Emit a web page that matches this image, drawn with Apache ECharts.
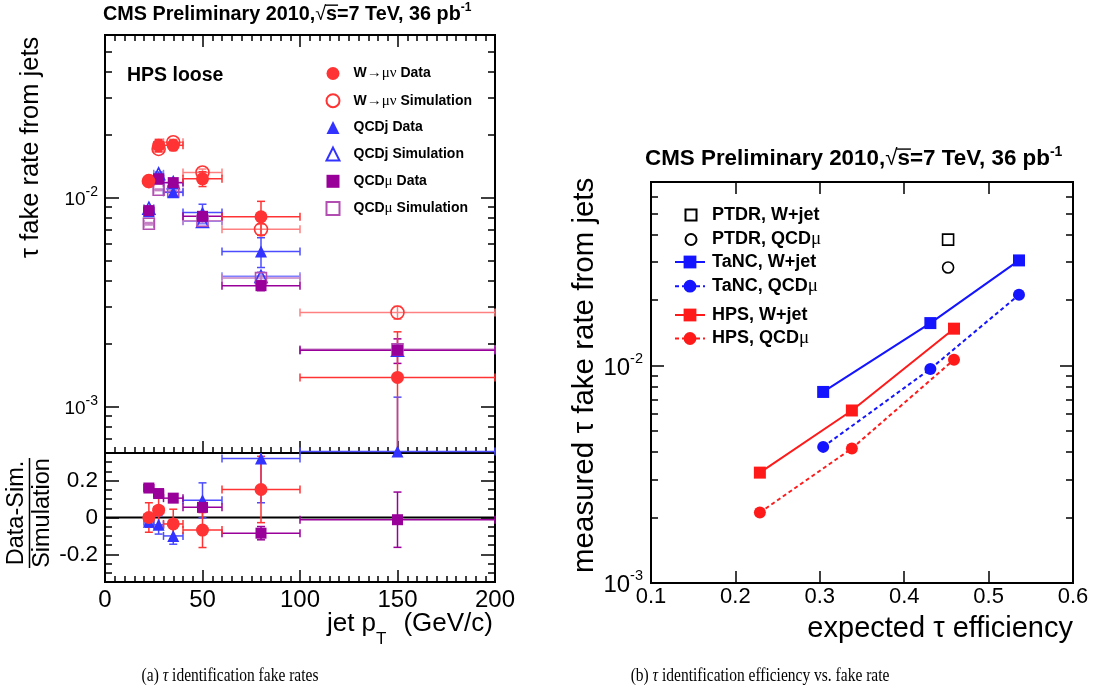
<!DOCTYPE html>
<html>
<head>
<meta charset="utf-8">
<title>Tau fake rates</title>
<script src="https://cdn.jsdelivr.net/npm/echarts@6.0.0/dist/echarts.min.js"></script>
<style>
  html, body { margin: 0; padding: 0; background: #fff; }
  #chart { width: 1097px; height: 692px; }
</style>
</head>
<body>
<div id="chart"></div>
<script>
// ---------- jet pT binning (GeV/c) ----------
const ptCenter = [22.5, 27.5, 35, 50, 80, 150];
const ptLow    = [20, 25, 30, 40, 60, 100];
const ptHigh   = [25, 30, 40, 60, 100, 200];

// ---------- tau fake rate from jets vs jet pT (HPS loose) ----------
const wData        = [0.0120, 0.0178, 0.0178, 0.0123, 0.0081, 0.00138];
const wDataErr     = [0.0007, 0.0012, 0.0010, 0.0010, 0.0015, 0.0009];
const wSim         = [0.0120, 0.0171, 0.0184, 0.0132, 0.00705, 0.00282];
const wSimErr      = [0.0004, 0.0006, 0.0006, 0.0005, 0.0004, 0.0002];
const qcdjData     = [0.0086, 0.0125, 0.0106, 0.0085, 0.00553, 0.00061];
const qcdjDataErr  = [0.0004, 0.0006, 0.0005, 0.0008, 0.0009, 0.0005];
const qcdjSim      = [0.0089, 0.0130, 0.0118, 0.0077, 0.0042, 0.00186];
const qcdjSimErr   = [0.0002, 0.0003, 0.0003, 0.0002, 0.0002, 0.0001];
const qcdmuData    = [0.00867, 0.0123, 0.0118, 0.00814, 0.00379, 0.00186];
const qcdmuDataErr = [0.0002, 0.0003, 0.0003, 0.0002, 0.0002, 0.00025];
const qcdmuSim     = [0.0075, 0.0109, 0.0107, 0.00775, 0.00412, 0.00188];
const qcdmuSimErr  = [0.0001, 0.0001, 0.0001, 0.0001, 0.0001, 0.0001];

// ---------- (Data - Sim.) / Simulation ----------
const wRatio        = [0.0, 0.04, -0.035, -0.068, 0.152, -0.51];
const wRatioErr     = [0.08, 0.09, 0.08, 0.095, 0.18, 0.10];
const qcdjRatio     = [-0.023, -0.04, -0.10, 0.093, 0.32, null];
const qcdjRatioErr  = [0.03, 0.05, 0.045, 0.095, 0.24, null];
const qcdmuRatio    = [0.16, 0.13, 0.105, 0.055, -0.085, -0.012];
const qcdmuRatioErr = [0.02, 0.02, 0.02, 0.025, 0.036, 0.15];

// ---------- efficiency vs fake rate ----------
const effTaNC   = [0.304, 0.431, 0.536];
const tancWjet  = [0.00757, 0.0157, 0.0305];
const tancQcdmu = [0.00423, 0.00966, 0.0212];
const effHPS    = [0.229, 0.338, 0.459];
const hpsWjet   = [0.00322, 0.00622, 0.0148];
const hpsQcdmu  = [0.00211, 0.00416, 0.01066];
const effPTDR   = [0.452];
const ptdrWjet  = [0.038];
const ptdrQcdmu = [0.0283];

// ---------- tick positions ----------
const logMajorTicks  = [0.001, 0.01];
const logMinorLeft   = [0.0006, 0.0007, 0.0008, 0.0009, 0.002, 0.003, 0.004, 0.005, 0.006, 0.007, 0.008, 0.009, 0.02, 0.03, 0.04, 0.05, 0.06];
const logMinorRight  = [0.002, 0.003, 0.004, 0.005, 0.006, 0.007, 0.008, 0.009, 0.02, 0.03, 0.04, 0.05, 0.06, 0.07];
const ratioMajorTicks = [-0.2, 0, 0.2];
const ratioMinorTicks = [-0.3, -0.25, -0.15, -0.1, -0.05, 0.05, 0.1, 0.15, 0.25, 0.3];

const FONT = "'Liberation Sans', Arial, Helvetica, sans-serif";
const SERIF = "'Liberation Serif', 'Times New Roman', serif";
const BLACK = '#000';

const RED = '#ff3333', RED_SIM_LINE = '#ff8080';
const BLUE = '#3333ff', BLUE_SIM_LINE = '#8080ff';
const PURPLE = '#990099', PURPLE_SIM = '#b24db2', PURPLE_SIM_LINE = '#c580c5';
const R_BLUE = '#1414ff', R_RED = '#ff1a1a';

// ---------- axis helpers ----------
function tickStyle(len) {
  return { show: true, inside: true, length: len, lineStyle: { color: BLACK, width: 1.5 } };
}
function baseAxis(extra) {
  return Object.assign({
    axisLine: { show: false, onZero: false },
    splitLine: { show: false },
    axisLabel: { show: false },
    silent: true
  }, extra);
}
function ptAxis(grid, position, labels) {
  return baseAxis({
    type: 'value', gridIndex: grid, position, min: 0, max: 200, interval: 50,
    axisTick: tickStyle(12),
    minorTick: { show: true, splitNumber: 10, length: 6, lineStyle: { color: BLACK, width: 1.5 } },
    axisLabel: labels ? { show: true, fontFamily: FONT, fontSize: 24, color: BLACK, margin: 6 } : { show: false }
  });
}
function effAxis(position, labels) {
  return baseAxis({
    type: 'value', gridIndex: 2, position, min: 0.1, max: 0.6, interval: 0.1,
    axisTick: tickStyle(12),
    axisLabel: labels ? {
      show: true, fontFamily: FONT, fontSize: 22, color: BLACK, margin: 3,
      formatter: v => v.toFixed(1)
    } : { show: false }
  });
}
function powLabel(base, sup, margin) {
  return {
    show: true, customValues: logMajorTicks, margin,
    formatter: v => '{b|10}{s|' + Math.round(Math.log10(v)) + '}',
    rich: {
      b: { fontFamily: FONT, fontSize: base, color: BLACK, lineHeight: base + 5, verticalAlign: 'bottom' },
      s: { fontFamily: FONT, fontSize: sup, color: BLACK, lineHeight: sup + 1, verticalAlign: 'top' }
    }
  };
}
function logAxis(grid, position, min, max, ticks, len, label) {
  const t = tickStyle(len);
  t.customValues = ticks;
  return baseAxis({
    type: 'log', logBase: 10, gridIndex: grid, position, min, max,
    axisTick: t,
    axisLabel: label || { show: false }
  });
}
function ratioAxis(position, ticks, len, labels) {
  const t = tickStyle(len);
  t.customValues = ticks;
  return baseAxis({
    type: 'value', gridIndex: 1, position, min: -0.35, max: 0.35,
    axisTick: t,
    axisLabel: labels ? {
      show: true, customValues: ratioMajorTicks, fontFamily: FONT, fontSize: 22.5, color: BLACK, margin: 7,
      formatter: v => (Math.abs(v) < 1e-9 ? '0' : v.toFixed(1))
    } : { show: false }
  });
}

// ---------- series helpers ----------
function pairs(xs, ys) {
  const out = [];
  xs.forEach((x, i) => { if (ys[i] != null) out.push([x, ys[i]]); });
  return out;
}
function errRows(ys, errs) {
  const out = [];
  ptCenter.forEach((x, i) => {
    if (ys[i] == null) return;
    out.push([x, ys[i], ptLow[i], ptHigh[i], ys[i] - errs[i], ys[i] + errs[i]]);
  });
  return out;
}
function errorBarRenderer(color, width) {
  return function (params, api) {
    const cs = params.coordSys;
    const x0 = cs.x, x1 = cs.x + cs.width, y0 = cs.y, y1 = cs.y + cs.height;
    const cx = v => Math.min(Math.max(v, x0), x1);
    const cy = v => Math.min(Math.max(v, y0), y1);
    const c = api.coord([api.value(0), api.value(1)]);
    const l = api.coord([api.value(2), api.value(1)])[0];
    const r = api.coord([api.value(3), api.value(1)])[0];
    const b = api.coord([api.value(0), api.value(4)])[1];
    const t = api.coord([api.value(0), api.value(5)])[1];
    const cap = 4;
    const style = { stroke: color, lineWidth: width };
    const seg = (ax, ay, bx, by) => ({ type: 'line', shape: { x1: ax, y1: ay, x2: bx, y2: by }, style });
    const kids = [];
    if (c[1] >= y0 - 0.5 && c[1] <= y1 + 0.5) {
      kids.push(seg(cx(l), c[1], cx(r), c[1]));
      if (l >= x0 - 0.5) kids.push(seg(l, c[1] - cap, l, c[1] + cap));
      if (r <= x1 + 0.5) kids.push(seg(r, c[1] - cap, r, c[1] + cap));
    }
    if (c[0] >= x0 && c[0] <= x1) {
      const yb = cy(b), yt = cy(t);
      if (yb > yt) kids.push(seg(c[0], yb, c[0], yt));
      if (b >= y0 && b <= y1) kids.push(seg(c[0] - cap, b, c[0] + cap, b));
      if (t >= y0 && t <= y1) kids.push(seg(c[0] - cap, t, c[0] + cap, t));
    }
    return { type: 'group', children: kids };
  };
}
function errorSeries(rows, color, width, xi, yi) {
  return {
    type: 'custom', xAxisIndex: xi, yAxisIndex: yi, silent: true, z: 2,
    renderItem: errorBarRenderer(color, width),
    encode: { x: 0, y: 1 },
    data: rows
  };
}
function markerSeries(name, data, symbol, size, fill, stroke, xi, yi, z) {
  return {
    name, type: 'scatter', xAxisIndex: xi, yAxisIndex: yi, silent: true, z: z || 3,
    symbol, symbolSize: size,
    itemStyle: { color: fill, borderColor: stroke, borderWidth: fill === 'transparent' ? 1.6 : 0, opacity: 1 },
    data
  };
}

// ---------- inline text with sub/superscripts ----------
const measureCtx = document.createElement('canvas').getContext('2d');
function runFont(r) {
  return (r.italic ? 'italic ' : '') + (r.bold ? 'bold ' : '') + r.size + 'px ' + (r.family || FONT);
}
function inlineText(runs, opt) {
  let w = 0;
  const placed = runs.map(r => {
    const font = runFont(r);
    measureCtx.font = font;
    const start = w + (r.dx || 0);
    const width = measureCtx.measureText(r.t).width;
    w = start + width;
    return { r, font, start, width };
  });
  const off = opt.align === 'right' ? -w : opt.align === 'center' ? -w / 2 : 0;
  const children = [];
  placed.forEach(p => {
    children.push({
      type: 'text', x: p.start + off, y: (p.r.dy || 0) - 0.3465 * p.r.size,
      style: { text: p.r.t, font: p.font, fill: BLACK, align: 'left', verticalAlign: 'middle' }
    });
    if (p.r.over) {
      const yy = (p.r.dy || 0) - 0.80 * p.r.size;
      children.push({
        type: 'line', shape: { x1: p.start + off - 1, y1: yy, x2: p.start + off + p.width + 1, y2: yy },
        style: { stroke: BLACK, lineWidth: 1.4 }
      });
    }
  });
  return {
    type: 'group', x: opt.x, y: opt.y, rotation: opt.rotation || 0,
    scaleY: opt.scaleY || 1, silent: true, children
  };
}
function cmsTitle(x, y, size) {
  const sup = Math.round(size * 0.62);
  return inlineText([
    { t: 'CMS Preliminary 2010,', bold: true, size },
    { t: '\u221A', size },
    { t: 's', bold: true, size, over: true },
    { t: '=7 TeV, 36 pb', bold: true, size },
    { t: '-1', bold: true, size: sup, dy: -size * 0.45 }
  ], { x, y });
}

// ---------- chart ----------
const chart = echarts.init(document.getElementById('chart'), null, { renderer: 'canvas' });

const gridBase = { show: true, borderColor: BLACK, borderWidth: 2, backgroundColor: 'transparent', containLabel: false, outerBoundsMode: 'none' };

function legendText(size, gap) {
  return {
    fontFamily: FONT, fontWeight: 'bold', fontSize: size, color: BLACK, lineHeight: size,
    rich: {
      sp: { width: gap, lineHeight: size },
      g: { fontFamily: SERIF, fontWeight: 'normal', fontSize: size + 1, color: BLACK, lineHeight: size }
    }
  };
}
// legend labels: a small lead-in gap, Greek letters in a serif face
const legendLabel = name => '{sp| }' + name.replace(/[\u2192\u03BC\u03BD]+/g, m => '{g|' + m + '}');

const option = {
  animation: false,
  backgroundColor: '#fff',
  grid: [
    Object.assign({ left: 105, top: 35, width: 390, height: 418 }, gridBase),
    Object.assign({ left: 105, top: 453, width: 390, height: 129 }, gridBase),
    Object.assign({ left: 651, top: 182, width: 422, height: 401 }, gridBase)
  ],
  xAxis: [
    ptAxis(0, 'bottom', false),   // 0
    ptAxis(0, 'top', false),      // 1
    ptAxis(1, 'bottom', true),    // 2
    effAxis('bottom', true),      // 3
    effAxis('top', false)         // 4
  ],
  yAxis: [
    logAxis(0, 'left', 0.0006, 0.06, logMajorTicks, 14, powLabel(19, 14, 7)),   // 0
    logAxis(0, 'left', 0.0006, 0.06, logMinorLeft, 7),                          // 1
    logAxis(0, 'right', 0.0006, 0.06, logMajorTicks, 14),                       // 2
    logAxis(0, 'right', 0.0006, 0.06, logMinorLeft, 7),                         // 3
    ratioAxis('left', ratioMajorTicks, 14, true),                               // 4
    ratioAxis('left', ratioMinorTicks, 7, false),                               // 5
    ratioAxis('right', ratioMajorTicks, 14, false),                             // 6
    ratioAxis('right', ratioMinorTicks, 7, false),                              // 7
    logAxis(2, 'left', 0.001, 0.07, logMajorTicks, 13, powLabel(24, 14.5, 8)),   // 8
    logAxis(2, 'left', 0.001, 0.07, logMinorRight, 7),                          // 9
    logAxis(2, 'right', 0.001, 0.07, logMajorTicks, 13),                        // 10
    logAxis(2, 'right', 0.001, 0.07, logMinorRight, 7)                          // 11
  ],
  legend: [
    {
      orient: 'vertical', left: 325.5, top: 66, padding: 0, itemWidth: 13, itemHeight: 13, itemGap: 12.2,
      selectedMode: false, textStyle: legendText(14, 9), formatter: legendLabel,
      data: ['W\u2192\u03BC\u03BD Data', 'W\u2192\u03BC\u03BD Simulation', 'QCDj Data', 'QCDj Simulation', 'QCD\u03BC Data', 'QCD\u03BC Simulation']
    },
    {
      orient: 'vertical', left: 684.5, top: 206, padding: 0, itemWidth: 11, itemHeight: 11, itemGap: 6,
      selectedMode: false, textStyle: legendText(18, 10.5), formatter: legendLabel,
      data: ['PTDR, W+jet', 'PTDR, QCD\u03BC']
    },
    {
      orient: 'vertical', left: 674, top: 253, padding: 0, itemWidth: 30, itemHeight: 16, itemGap: 5.7,
      selectedMode: false, textStyle: legendText(18, 2), formatter: legendLabel,
      data: ['TaNC, W+jet', 'TaNC, QCD\u03BC']
    },
    {
      orient: 'vertical', left: 674, top: 306, padding: 0, itemWidth: 30, itemHeight: 16, itemGap: 5,
      selectedMode: false, textStyle: legendText(18, 2), formatter: legendLabel,
      data: ['HPS, W+jet', 'HPS, QCD\u03BC']
    }
  ],
  series: [
    // fake-rate error bars
    errorSeries(errRows(wSim, wSimErr), RED_SIM_LINE, 1.5, 0, 0),
    errorSeries(errRows(qcdjSim, qcdjSimErr), BLUE_SIM_LINE, 1.5, 0, 0),
    errorSeries(errRows(qcdmuSim, qcdmuSimErr), PURPLE_SIM_LINE, 1.5, 0, 0),
    errorSeries(errRows(qcdjData, qcdjDataErr), '#4d4dff', 1.5, 0, 0),
    errorSeries(errRows(qcdmuData, qcdmuDataErr), PURPLE, 1.5, 0, 0),
    errorSeries(errRows(wData, wDataErr), RED, 1.5, 0, 0),
    // fake-rate markers
    markerSeries('W\u2192\u03BC\u03BD Simulation', pairs(ptCenter, wSim), 'circle', 13, 'transparent', RED, 0, 0, 3),
    markerSeries('QCDj Simulation', pairs(ptCenter, qcdjSim), 'triangle', 12, 'transparent', BLUE, 0, 0, 3),
    markerSeries('QCD\u03BC Simulation', pairs(ptCenter, qcdmuSim), 'rect', 11, 'transparent', PURPLE_SIM, 0, 0, 3),
    markerSeries('QCDj Data', pairs(ptCenter, qcdjData), 'triangle', 12, BLUE, BLUE, 0, 0, 4),
    markerSeries('QCD\u03BC Data', pairs(ptCenter, qcdmuData), 'rect', 11, PURPLE, PURPLE, 0, 0, 4),
    markerSeries('W\u2192\u03BC\u03BD Data', pairs(ptCenter, wData), 'circle', 13, RED, RED, 0, 0, 4),

    // ratio panel: zero line, error bars, markers
    {
      type: 'line', xAxisIndex: 2, yAxisIndex: 4, silent: true, z: 1, symbol: 'none',
      lineStyle: { color: BLACK, width: 2 }, data: [[0, 0], [200, 0]]
    },
    errorSeries(errRows(qcdjRatio, qcdjRatioErr), '#4d4dff', 1.5, 2, 4),
    errorSeries(errRows(qcdmuRatio, qcdmuRatioErr), PURPLE, 1.5, 2, 4),
    errorSeries(errRows(wRatio, wRatioErr), RED, 1.5, 2, 4),
    markerSeries('ratio QCDj', pairs(ptCenter, qcdjRatio), 'triangle', 12, BLUE, BLUE, 2, 4, 4),
    markerSeries('ratio QCDmu', pairs(ptCenter, qcdmuRatio), 'rect', 11, PURPLE, PURPLE, 2, 4, 4),
    markerSeries('ratio W', pairs(ptCenter, wRatio), 'circle', 13, RED, RED, 2, 4, 4),

    // efficiency vs fake rate
    markerSeries('PTDR, W+jet', pairs(effPTDR, ptdrWjet), 'rect', 11, 'transparent', BLACK, 3, 8, 4),
    markerSeries('PTDR, QCD\u03BC', pairs(effPTDR, ptdrQcdmu), 'circle', 11, 'transparent', BLACK, 3, 8, 4),
    {
      name: 'TaNC, W+jet', type: 'line', xAxisIndex: 3, yAxisIndex: 8, silent: true, z: 4,
      symbol: 'rect', symbolSize: 12, itemStyle: { color: R_BLUE },
      lineStyle: { color: R_BLUE, width: 2, type: 'solid' }, data: pairs(effTaNC, tancWjet)
    },
    {
      name: 'TaNC, QCD\u03BC', type: 'line', xAxisIndex: 3, yAxisIndex: 8, silent: true, z: 4,
      symbol: 'circle', symbolSize: 12, itemStyle: { color: R_BLUE },
      lineStyle: { color: R_BLUE, width: 2, type: [4, 3] }, data: pairs(effTaNC, tancQcdmu)
    },
    {
      name: 'HPS, W+jet', type: 'line', xAxisIndex: 3, yAxisIndex: 8, silent: true, z: 4,
      symbol: 'rect', symbolSize: 12, itemStyle: { color: R_RED },
      lineStyle: { color: R_RED, width: 2, type: 'solid' }, data: pairs(effHPS, hpsWjet)
    },
    {
      name: 'HPS, QCD\u03BC', type: 'line', xAxisIndex: 3, yAxisIndex: 8, silent: true, z: 4,
      symbol: 'circle', symbolSize: 12, itemStyle: { color: R_RED },
      lineStyle: { color: R_RED, width: 2, type: [4, 3] }, data: pairs(effHPS, hpsQcdmu)
    }
  ],
  graphic: [
    cmsTitle(103, 21, 19.8),
    cmsTitle(645, 167, 22.4),
    inlineText([{ t: 'HPS loose', bold: true, size: 19.5 }], { x: 127, y: 82 }),
    // y title, fake rate panel
    inlineText([{ t: '\u03C4 fake rate from jets', size: 25.5 }], { x: 40, y: 258, rotation: Math.PI / 2 }),
    // ratio y title as a fraction
    inlineText([{ t: 'Data-Sim.', size: 23.5 }], { x: 24.8, y: 513, rotation: Math.PI / 2, align: 'center' }),
    inlineText([{ t: 'Simulation', size: 23.5 }], { x: 50.5, y: 513, rotation: Math.PI / 2, align: 'center' }),
    { type: 'line', silent: true, shape: { x1: 29.5, y1: 458, x2: 29.5, y2: 568 }, style: { stroke: BLACK, lineWidth: 1.5 } },
    // x title, fake rate panel
    inlineText([
      { t: 'jet p', size: 26 },
      { t: 'T', size: 17, dy: 12 },
      { t: '(GeV/c)', size: 26, dx: 17 }
    ], { x: 493, y: 633, align: 'right' }),
    // titles, efficiency panel
    inlineText([{ t: 'expected \u03C4 efficiency', size: 29 }], { x: 1073, y: 639, align: 'right' }),
    inlineText([{ t: 'measured \u03C4 fake rate from jets', size: 29.5 }], { x: 595, y: 573, rotation: Math.PI / 2 }),
    // sub-figure captions
    inlineText([
      { t: '(a) ', size: 15.5, family: SERIF },
      { t: '\u03C4', size: 15.5, family: SERIF, italic: true },
      { t: ' identification fake rates', size: 15.5, family: SERIF }
    ], { x: 230, y: 683, align: 'center', scaleY: 1.2 }),
    inlineText([
      { t: '(b) ', size: 15.5, family: SERIF },
      { t: '\u03C4', size: 15.5, family: SERIF, italic: true },
      { t: ' identification efficiency vs. fake rate', size: 15.5, family: SERIF }
    ], { x: 760, y: 683, align: 'center', scaleY: 1.2 })
  ]
};

chart.setOption(option);
</script>
</body>
</html>
